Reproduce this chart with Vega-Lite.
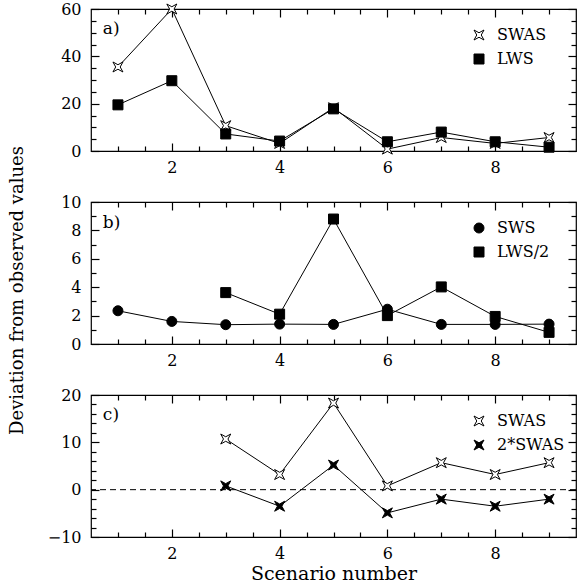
{
  "$schema": "https://vega.github.io/schema/vega-lite/v6.json",
  "background": "white",
  "padding": {"left": 8, "top": 0, "right": 2, "bottom": 2},
  "autosize": {"type": "pad"},
  "spacing": 51,
  "bounds": "flush",
  "config": {
    "view": {"stroke": "black", "strokeWidth": 1.2},
    "axis": {"grid": false, "domain": false, "ticks": true, "labelFont": "DejaVu Serif", "labelFontSize": 16, "labelColor": "black", "titleFont": "DejaVu Serif", "titleFontSize": 18, "titleFontWeight": "normal", "titleColor": "black", "tickColor": "black", "tickWidth": 1.2, "tickOpacity": 1, "labelFlush": false, "labelOverlap": false},
    "legend": {"orient": "none", "legendX": 380, "legendY": 18, "labelFont": "DejaVu Serif", "labelFontSize": 16, "labelColor": "black", "symbolSize": 100, "rowPadding": 8, "symbolStrokeWidth": 1, "labelLimit": 0, "labelOffset": 10}
  },
  "datasets": {
    "one": [{}],
    "a": [
      {"x": 1, "v": 35.5, "s": "SWAS"}, {"x": 2, "v": 60, "s": "SWAS"}, {"x": 3, "v": 10.7, "s": "SWAS"}, {"x": 4, "v": 3.2, "s": "SWAS"}, {"x": 5, "v": 18.3, "s": "SWAS"}, {"x": 6, "v": 0.8, "s": "SWAS"}, {"x": 7, "v": 5.7, "s": "SWAS"}, {"x": 8, "v": 3.2, "s": "SWAS"}, {"x": 9, "v": 5.7, "s": "SWAS"},
      {"x": 1, "v": 19.5, "s": "LWS"}, {"x": 2, "v": 29.7, "s": "LWS"}, {"x": 3, "v": 7.2, "s": "LWS"}, {"x": 4, "v": 4.2, "s": "LWS"}, {"x": 5, "v": 17.8, "s": "LWS"}, {"x": 6, "v": 3.9, "s": "LWS"}, {"x": 7, "v": 8.0, "s": "LWS"}, {"x": 8, "v": 3.9, "s": "LWS"}, {"x": 9, "v": 1.6, "s": "LWS"}
    ],
    "b": [
      {"x": 1, "v": 2.34, "s": "SWS"}, {"x": 2, "v": 1.59, "s": "SWS"}, {"x": 3, "v": 1.36, "s": "SWS"}, {"x": 4, "v": 1.4, "s": "SWS"}, {"x": 5, "v": 1.38, "s": "SWS"}, {"x": 6, "v": 2.45, "s": "SWS"}, {"x": 7, "v": 1.38, "s": "SWS"}, {"x": 8, "v": 1.38, "s": "SWS"}, {"x": 9, "v": 1.4, "s": "SWS"},
      {"x": 3, "v": 3.62, "s": "LWS/2"}, {"x": 4, "v": 2.1, "s": "LWS/2"}, {"x": 5, "v": 8.8, "s": "LWS/2"}, {"x": 6, "v": 2.0, "s": "LWS/2"}, {"x": 7, "v": 4.02, "s": "LWS/2"}, {"x": 8, "v": 1.94, "s": "LWS/2"}, {"x": 9, "v": 0.82, "s": "LWS/2"}
    ],
    "c": [
      {"x": 3, "v": 10.7, "s": "SWAS"}, {"x": 4, "v": 3.2, "s": "SWAS"}, {"x": 5, "v": 18.3, "s": "SWAS"}, {"x": 6, "v": 0.8, "s": "SWAS"}, {"x": 7, "v": 5.7, "s": "SWAS"}, {"x": 8, "v": 3.2, "s": "SWAS"}, {"x": 9, "v": 5.7, "s": "SWAS"},
      {"x": 3, "v": 0.8, "s": "2*SWAS"}, {"x": 4, "v": -3.5, "s": "2*SWAS"}, {"x": 5, "v": 5.2, "s": "2*SWAS"}, {"x": 6, "v": -4.9, "s": "2*SWAS"}, {"x": 7, "v": -2.0, "s": "2*SWAS"}, {"x": 8, "v": -3.5, "s": "2*SWAS"}, {"x": 9, "v": -2.0, "s": "2*SWAS"}
    ]
  },
  "vconcat": [
    {
      "width": 485, "height": 142,
      "data": {"name": "a"},
      "layer": [
        {
          "mark": {"type": "line", "color": "black", "strokeWidth": 1},
          "encoding": {
            "x": {"field": "x", "type": "quantitative", "scale": {"domain": [0.5, 9.5], "nice": false, "zero": false}, "axis": {"orient": "bottom", "title": null, "values": [1, 1.5, 2, 2.5, 3, 3.5, 4, 4.5, 5, 5.5, 6, 6.5, 7, 7.5, 8, 8.5, 9], "labelExpr": "datum.value % 2 === 0 ? format(datum.value, 'd') : ''", "tickSize": {"condition": {"test": "datum.value % 2 === 0", "value": -8}, "value": -5}, "labelPadding": 16}},
            "y": {"field": "v", "type": "quantitative", "scale": {"domain": [0, 60], "nice": false, "zero": false}, "axis": {"orient": "left", "title": null, "values": [0, 5, 10, 15, 20, 25, 30, 35, 40, 45, 50, 55, 60], "labelExpr": "datum.value % 20 === 0 ? datum.label : ''", "tickSize": {"condition": {"test": "datum.value % 20 === 0", "value": -8}, "value": -5}, "labelPadding": 18}},
            "detail": {"field": "s"}
          }
        },
        {
          "mark": {"type": "point", "filled": true, "strokeWidth": 1, "opacity": 1},
          "encoding": {
            "x": {"field": "x", "type": "quantitative", "scale": {"domain": [0.5, 9.5], "nice": false, "zero": false}, "axis": {"orient": "top", "title": null, "labels": false, "values": [1, 1.5, 2, 2.5, 3, 3.5, 4, 4.5, 5, 5.5, 6, 6.5, 7, 7.5, 8, 8.5, 9], "tickSize": {"condition": {"test": "datum.value % 2 === 0", "value": -8}, "value": -5}}},
            "y": {"field": "v", "type": "quantitative", "scale": {"domain": [0, 60], "nice": false, "zero": false}, "axis": {"orient": "right", "title": null, "labels": false, "values": [0, 5, 10, 15, 20, 25, 30, 35, 40, 45, 50, 55, 60], "tickSize": {"condition": {"test": "datum.value % 20 === 0", "value": -8}, "value": -5}}},
            "shape": {"field": "s", "type": "nominal", "scale": {"domain": ["SWAS", "LWS"], "range": ["M-1,-1L0,-0.45L1,-1L0.45,0L1,1L0,0.45L-1,1L-0.45,0Z", "square"]}, "legend": {"title": null}},
            "fill": {"field": "s", "type": "nominal", "scale": {"domain": ["SWAS", "LWS"], "range": ["white", "black"]}, "legend": {"title": null}},
            "stroke": {"field": "s", "type": "nominal", "scale": {"domain": ["SWAS", "LWS"], "range": ["black", "black"]}, "legend": {"title": null}},
            "size": {"value": 100}
          }
        },
        {
          "data": {"name": "one"},
          "mark": {"type": "text", "font": "DejaVu Serif", "fontSize": 17, "fontWeight": "normal", "align": "left", "baseline": "middle", "color": "black"},
          "encoding": {
            "x": {"datum": 0.72, "type": "quantitative", "axis": null},
            "y": {"datum": 51.5, "type": "quantitative", "axis": null},
            "text": {"value": "a)"}
          }
        }
      ]
    },
    {
      "width": 485, "height": 142,
      "data": {"name": "b"},
      "layer": [
        {
          "mark": {"type": "line", "color": "black", "strokeWidth": 1},
          "encoding": {
            "x": {"field": "x", "type": "quantitative", "scale": {"domain": [0.5, 9.5], "nice": false, "zero": false}, "axis": {"orient": "bottom", "title": null, "values": [1, 1.5, 2, 2.5, 3, 3.5, 4, 4.5, 5, 5.5, 6, 6.5, 7, 7.5, 8, 8.5, 9], "labelExpr": "datum.value % 2 === 0 ? format(datum.value, 'd') : ''", "tickSize": {"condition": {"test": "datum.value % 2 === 0", "value": -8}, "value": -5}, "labelPadding": 16}},
            "y": {"field": "v", "type": "quantitative", "scale": {"domain": [0, 10], "nice": false, "zero": false}, "axis": {"orient": "left", "title": "Deviation from observed values", "titlePadding": 34, "titleY": 88, "values": [0, 1, 2, 3, 4, 5, 6, 7, 8, 9, 10], "labelExpr": "datum.value % 2 === 0 ? datum.label : ''", "tickSize": {"condition": {"test": "datum.value % 2 === 0", "value": -8}, "value": -5}, "labelPadding": 18}},
            "detail": {"field": "s"}
          }
        },
        {
          "mark": {"type": "point", "filled": true, "strokeWidth": 1, "opacity": 1},
          "encoding": {
            "x": {"field": "x", "type": "quantitative", "scale": {"domain": [0.5, 9.5], "nice": false, "zero": false}, "axis": {"orient": "top", "title": null, "labels": false, "values": [1, 1.5, 2, 2.5, 3, 3.5, 4, 4.5, 5, 5.5, 6, 6.5, 7, 7.5, 8, 8.5, 9], "tickSize": {"condition": {"test": "datum.value % 2 === 0", "value": -8}, "value": -5}}},
            "y": {"field": "v", "type": "quantitative", "scale": {"domain": [0, 10], "nice": false, "zero": false}, "axis": {"orient": "right", "title": null, "labels": false, "values": [0, 1, 2, 3, 4, 5, 6, 7, 8, 9, 10], "tickSize": {"condition": {"test": "datum.value % 2 === 0", "value": -8}, "value": -5}}},
            "shape": {"field": "s", "type": "nominal", "scale": {"domain": ["SWS", "LWS/2"], "range": ["circle", "square"]}, "legend": {"title": null}},
            "fill": {"field": "s", "type": "nominal", "scale": {"domain": ["SWS", "LWS/2"], "range": ["black", "black"]}, "legend": {"title": null}},
            "stroke": {"field": "s", "type": "nominal", "scale": {"domain": ["SWS", "LWS/2"], "range": ["black", "black"]}, "legend": {"title": null}},
            "size": {"value": 100}
          }
        },
        {
          "data": {"name": "one"},
          "mark": {"type": "text", "font": "DejaVu Serif", "fontSize": 17, "fontWeight": "normal", "align": "left", "baseline": "middle", "color": "black"},
          "encoding": {
            "x": {"datum": 0.72, "type": "quantitative", "axis": null},
            "y": {"datum": 8.5, "type": "quantitative", "axis": null},
            "text": {"value": "b)"}
          }
        }
      ]
    },
    {
      "width": 485, "height": 142,
      "data": {"name": "c"},
      "layer": [
        {
          "data": {"name": "one"},
          "mark": {"type": "rule", "color": "black", "strokeWidth": 1, "strokeDash": [6, 4]},
          "encoding": {"y": {"datum": 0, "type": "quantitative", "axis": null}}
        },
        {
          "mark": {"type": "line", "color": "black", "strokeWidth": 1},
          "encoding": {
            "x": {"field": "x", "type": "quantitative", "scale": {"domain": [0.5, 9.5], "nice": false, "zero": false}, "axis": {"orient": "bottom", "title": "Scenario number", "titlePadding": 0, "titleFontSize": 19, "values": [1, 1.5, 2, 2.5, 3, 3.5, 4, 4.5, 5, 5.5, 6, 6.5, 7, 7.5, 8, 8.5, 9], "labelExpr": "datum.value % 2 === 0 ? format(datum.value, 'd') : ''", "tickSize": {"condition": {"test": "datum.value % 2 === 0", "value": -8}, "value": -5}, "labelPadding": 16}},
            "y": {"field": "v", "type": "quantitative", "scale": {"domain": [-10, 20], "nice": false, "zero": false}, "axis": {"orient": "left", "title": null, "values": [-10, -8, -6, -4, -2, 0, 2, 4, 6, 8, 10, 12, 14, 16, 18, 20], "labelExpr": "datum.value % 10 === 0 ? datum.label : ''", "tickSize": {"condition": {"test": "datum.value % 10 === 0", "value": -8}, "value": -5}, "labelPadding": 18}},
            "detail": {"field": "s"}
          }
        },
        {
          "mark": {"type": "point", "filled": true, "strokeWidth": 1, "opacity": 1},
          "encoding": {
            "x": {"field": "x", "type": "quantitative", "scale": {"domain": [0.5, 9.5], "nice": false, "zero": false}, "axis": {"orient": "top", "title": null, "labels": false, "values": [1, 1.5, 2, 2.5, 3, 3.5, 4, 4.5, 5, 5.5, 6, 6.5, 7, 7.5, 8, 8.5, 9], "tickSize": {"condition": {"test": "datum.value % 2 === 0", "value": -8}, "value": -5}}},
            "y": {"field": "v", "type": "quantitative", "scale": {"domain": [-10, 20], "nice": false, "zero": false}, "axis": {"orient": "right", "title": null, "labels": false, "values": [-10, -8, -6, -4, -2, 0, 2, 4, 6, 8, 10, 12, 14, 16, 18, 20], "tickSize": {"condition": {"test": "datum.value % 10 === 0", "value": -8}, "value": -5}}},
            "shape": {"field": "s", "type": "nominal", "scale": {"domain": ["SWAS", "2*SWAS"], "range": ["M-1,-1L0,-0.45L1,-1L0.45,0L1,1L0,0.45L-1,1L-0.45,0Z", "M-1,-1L0,-0.45L1,-1L0.45,0L1,1L0,0.45L-1,1L-0.45,0Z"]}, "legend": {"title": null}},
            "fill": {"field": "s", "type": "nominal", "scale": {"domain": ["SWAS", "2*SWAS"], "range": ["white", "black"]}, "legend": {"title": null}},
            "stroke": {"field": "s", "type": "nominal", "scale": {"domain": ["SWAS", "2*SWAS"], "range": ["black", "black"]}, "legend": {"title": null}},
            "size": {"value": 100}
          }
        },
        {
          "data": {"name": "one"},
          "mark": {"type": "text", "font": "DejaVu Serif", "fontSize": 17, "fontWeight": "normal", "align": "left", "baseline": "middle", "color": "black"},
          "encoding": {
            "x": {"datum": 0.72, "type": "quantitative", "axis": null},
            "y": {"datum": 15.7, "type": "quantitative", "axis": null},
            "text": {"value": "c)"}
          }
        }
      ]
    }
  ],
  "resolve": {
    "scale": {"x": "independent", "y": "independent", "shape": "independent", "fill": "independent", "stroke": "independent"},
    "legend": {"shape": "independent", "fill": "independent", "stroke": "independent"}
  }
}
